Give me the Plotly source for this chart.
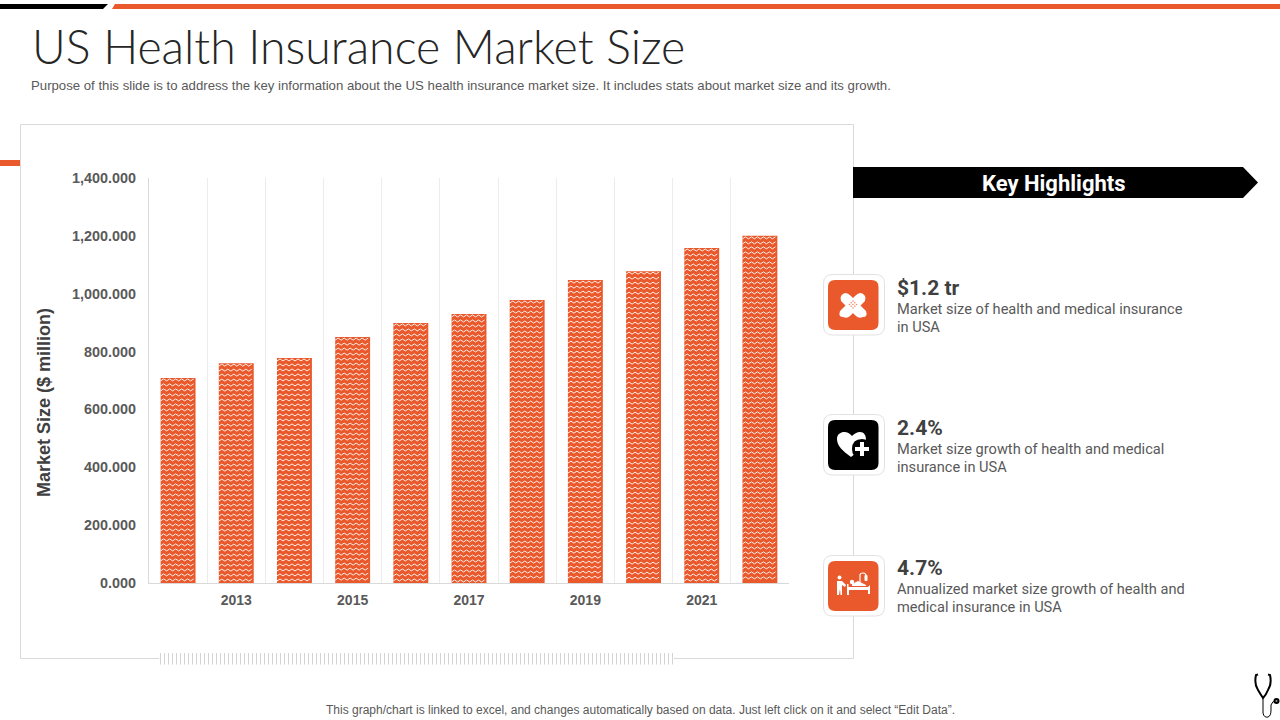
import plotly.graph_objects as go

ORANGE = '#E9592B'
BLACK = '#000000'
W, H = 1280, 720

# Market size per year
years = [2012, 2013, 2014, 2015, 2016, 2017, 2018, 2019, 2020, 2021, 2022]
values = [709, 760, 778, 850, 899, 930, 978, 1047, 1078, 1158, 1200]

# plot area in page pixels
PLOT_L, PLOT_R, PLOT_T, PLOT_B = 149, 789, 178, 583
unit_x = (2022.5 - 2011.5) / (PLOT_R - PLOT_L)
unit_y = 1400 / (PLOT_B - PLOT_T)

fig = go.Figure()

fig.add_trace(go.Bar(x=years, y=values, width=0.6, marker=dict(color=ORANGE, line_width=0),
                     hoverinfo='x+y', showlegend=False))

# white zigzag texture on the bars
zig_x, zig_y = [], []
for year, val in zip(years, values):
    row = val - 3 * unit_y
    while row > 0:
        i = 0
        x = year - 0.3
        while x < year + 0.3:
            zig_x.append(x)
            zig_y.append(row + (i % 2) * 2 * unit_y)
            x += 3 * unit_x
            i += 1
        zig_x.append(None)
        zig_y.append(None)
        row -= 5 * unit_y
fig.add_trace(go.Scatter(x=zig_x, y=zig_y, mode='lines', line=dict(color='rgba(255,255,255,0.9)', width=1),
                         hoverinfo='skip', showlegend=False))

# empty trace so the full page pixel axes exist
fig.add_trace(go.Scatter(x=[0], y=[0], xaxis='x2', yaxis='y2', mode='markers',
                         marker=dict(opacity=0), hoverinfo='skip', showlegend=False))

shapes = []

def add_path(path, fill=None, line=None, width=0):
    shapes.append(dict(type='path', xref='x2', yref='y2', path=path,
                       fillcolor=fill if fill else 'rgba(0,0,0,0)',
                       line=dict(color=line if line else 'rgba(0,0,0,0)', width=width)))

def rrect(x0, y0, x1, y1, r):
    return (f'M{x0+r},{y0} L{x1-r},{y0} Q{x1},{y0} {x1},{y0+r} L{x1},{y1-r} Q{x1},{y1} {x1-r},{y1} '
            f'L{x0+r},{y1} Q{x0},{y1} {x0},{y1-r} L{x0},{y0+r} Q{x0},{y0} {x0+r},{y0} Z')

def circle(cx, cy, r):
    return rrect(cx - r, cy - r, cx + r, cy + r, r)

# top bars, side tick, chart card
add_path('M0,4 L108,4 L103,9 L0,9 Z', fill=BLACK)
add_path('M115,4 L1280,4 L1280,9 L112,9 Z', fill=ORANGE)
add_path('M0,160 L20,160 L20,166 L0,166 Z', fill=ORANGE)
add_path('M20.5,124.5 L853.5,124.5 L853.5,658.5 L20.5,658.5 Z', line='#d9d9d9', width=1)

# little slider thing on the card bottom
add_path('M159,653 L674,653 L674,665 L159,665 Z', fill='white')
ticks = ''
x = 160.5
while x < 674:
    ticks += f'M{x},653 L{x},664.5 '
    x += 4
add_path(ticks, line='#d4d4d4', width=1)

# key highlights arrow
add_path('M853,167 L1243,167 L1258,182.5 L1243,198 L853,198 Z', fill=BLACK)

# icon frames
for y0, col in [(274.5, ORANGE), (414.5, BLACK), (555.5, ORANGE)]:
    add_path(rrect(823.5, y0, 884.5, y0 + 60.5, 9), fill='white', line='#e2e2e2', width=1)
    add_path(rrect(828, y0 + 5.5, 878.5, y0 + 55.5, 7), fill=col)

# bandage icon
add_path('M841,296 Q845,290 851,296 L866,311 Q868,317 863,317 Q859,319 856,316 L841,301 Q840,298 841,296 Z', fill='white')
add_path('M865,296 Q861,290 855,296 L840,311 Q838,317 843,317 Q847,319 850,316 L865,301 Q866,298 865,296 Z', fill='white')
for dx, dy in [(0, -3.5), (-3.5, 0), (3.5, 0), (0, 3.5), (0, 0), (-1.8, -1.8), (1.8, -1.8), (-1.8, 1.8), (1.8, 1.8)]:
    add_path(circle(853 + dx, 304.5 + dy, 0.8), fill='#ee8a68')

# heart with plus icon
add_path('M851,457 C843,451 837,446 837,439 C837,434 841,432 844,432 C848,432 850,434 852,436 '
         'C854,434 857,432 860,432 C864,432 866,435 866,440 C866,447 858,452 851,457 Z', fill='white')
add_path(circle(862, 449, 10), fill=BLACK)
add_path('M860,442 L864,442 L864,447 L869,447 L869,451 L864,451 L864,456 L860,456 L860,451 L855,451 L855,447 L860,447 Z', fill='white')

# patient and nurse icon
add_path(circle(839.5, 577.5, 2), fill='white')
add_path('M837,581 L842,581 L846,585 L845,587 L842,585 L842,595 L840.5,595 L840,589 L839,595 L837,595 Z', fill='white')
add_path('M847,584 L848.5,584 L848.5,587 L868,587 L870,585 L870,594 L868,594 L868,590 L849,590 L849,595 L847,595 Z', fill='white')
add_path(circle(852, 582, 2.2), fill='white')
add_path('M852,584 L858,581 L866,585 L866,586 L852,586 Z', fill='white')
add_path('M860,586 L860,575 Q860,573 863,573 Q866,573 866,576', line='white', width=1.2)
add_path(rrect(864.5, 575, 867.5, 581, 1), fill='white')

# stethoscope, bottom right
add_path('M1258,674.5 L1256,675 Q1254,684 1258,690 Q1261,695 1263,698 Q1266,695 1268,690 Q1272,684 1270,675 L1268,674.5',
         line=BLACK, width=2)
add_path('M1263,698 L1263,713 Q1264,718 1268,717 Q1271,716 1271,710 L1271,705 Q1272,701 1276,701', line=BLACK, width=1)
add_path(circle(1276.5, 701, 3), fill=BLACK)
add_path(circle(1276.5, 701, 1), fill='#999999')

annotations = []

def add_text(x, y, text, size, color, family='Liberation Sans', anchor='left', bold=False, weight=None, angle=0):
    annotations.append(dict(xref='x2', yref='y2', x=x, y=y, text=text, showarrow=False,
                            xanchor=anchor, yanchor='middle', textangle=angle, borderpad=0,
                            font=dict(family=family, size=size, color=color,
                                      weight=weight if weight else (700 if bold else 400))))

add_text(31, 46, 'US Health Insurance Market Size', 46.4, '#262626', family='Lato', weight=300)
add_text(30, 85.5, 'Purpose of this slide is to address the key information about the US health insurance market size. '
                   'It includes stats about market size and its growth.', 13.2, '#595959')
add_text(1054, 183.5, 'Key Highlights', 22, 'white', family='Roboto', anchor='center', bold=True)
add_text(44, 403, 'Market Size ($ million)', 18, '#404040', anchor='center', bold=True, angle=-90)

highlights = [
    (288, '$1.2 tr', ['Market size of health and medical insurance', 'in USA']),
    (428, '2.4%', ['Market size growth of health and medical', 'insurance in USA']),
    (568, '4.7%', ['Annualized market size growth of health and', 'medical insurance in USA']),
]
for y, head, lines in highlights:
    add_text(896, y, head, 21, '#404040', family='Roboto', bold=True)
    add_text(896, y + 21, lines[0], 14.6, '#595959', family='Roboto')
    add_text(896, y + 39, lines[1], 14.6, '#595959', family='Roboto')

add_text(640.5, 710, 'This graph/chart is linked to excel, and changes automatically based on data. Just left click on it and select “Edit Data”.',
         12, '#595959', anchor='center')

fig.update_layout(
    width=W, height=H, margin=dict(l=0, r=0, t=0, b=0),
    paper_bgcolor='white', plot_bgcolor='rgba(0,0,0,0)',
    shapes=shapes, annotations=annotations, bargap=0.4,
    xaxis=dict(domain=[PLOT_L / W, PLOT_R / W], range=[2011.5, 2022.5], tick0=2013, dtick=2, automargin=False,
               showgrid=False, zeroline=False, showline=True, linecolor='#d9d9d9', linewidth=1,
               ticks='outside', ticklen=4, tickcolor='rgba(0,0,0,0)',
               tickfont=dict(family='Liberation Sans', size=14, color='#595959', weight=700),
               minor=dict(tick0=2011.5, dtick=1, showgrid=True, gridcolor='#ececec', gridwidth=1, ticks='')),
    yaxis=dict(domain=[1 - PLOT_B / H, 1 - PLOT_T / H], range=[0, 1400], dtick=200, tickformat=',.3f', automargin=False,
               showgrid=False, zeroline=False, showline=True, linecolor='#d9d9d9', linewidth=1,
               ticks='outside', ticklen=9, tickcolor='rgba(0,0,0,0)',
               tickfont=dict(family='Liberation Sans', size=14.4, color='#595959', weight=700)),
    xaxis2=dict(domain=[0, 1], range=[0, W], visible=False, anchor='y2', fixedrange=True, automargin=False),
    yaxis2=dict(domain=[0, 1], range=[H, 0], visible=False, anchor='x2', fixedrange=True, automargin=False),
)

# page margin off, figure has to sit at 0,0
fig.write_html("out.html", config={'displayModeBar': False}, post_script="document.body.style.margin='0';")
